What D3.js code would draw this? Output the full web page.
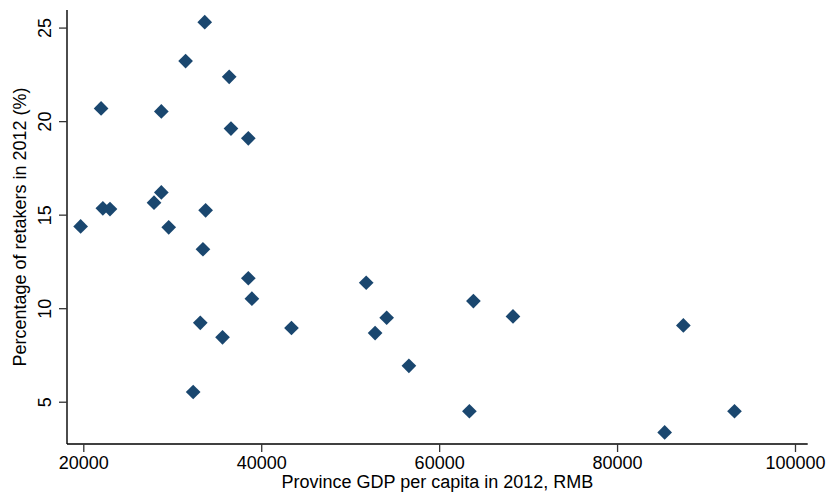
<!DOCTYPE html>
<html>
<head>
<meta charset="utf-8">
<script src="https://cdn.jsdelivr.net/npm/d3@7"></script>
<style>
  body { margin: 0; background: #fff; }
  svg { display: block; font-family: "Liberation Sans", Arial, sans-serif; }
</style>
</head>
<body>
<svg width="828" height="499"></svg>
<script>
var svg = d3.select('svg');

// GDP per capita (RMB) and share of retakers (%), one entry per province
var gdp = [19700, 22000, 22200, 23000, 27950, 28770, 28770, 29600, 31500, 33650,
  36400, 36600, 38550, 33750, 33450, 38550, 38950, 33150, 35650, 32350,
  43400, 51800, 52800, 54100, 56600, 63850, 63400, 68300, 87450, 85350, 93200];
var retakers = [14.37, 20.68, 15.34, 15.30, 15.64, 20.52, 16.19, 14.32, 23.21, 25.29,
  22.37, 19.60, 19.08, 15.23, 13.15, 11.60, 10.51, 9.22, 8.44, 5.52,
  8.94, 11.36, 8.67, 9.49, 6.92, 10.38, 4.49, 9.56, 9.08, 3.36, 4.49];
var xTicks = [20000, 40000, 60000, 80000, 100000];
var yTicks = [5, 10, 15, 20, 25];

var points = gdp.map(function(g, i) {
  return {x: g, y: retakers[i]};
});

// plot region (window.top is reserved, so use other names)
var plotLeft = 67, plotRight = 807.7, plotTop = 10, plotBottom = 444;
var fontSize = 18;

var x = d3.scaleLinear().domain([18168, 101428]).range([plotLeft, plotRight]);
var y = d3.scaleLinear().domain([2.74, 25.94]).range([plotBottom, plotTop]);

// axes
var xAxis = svg.append('g')
  .attr('transform', 'translate(0,' + plotBottom + ')')
  .call(d3.axisBottom(x).tickValues(xTicks).tickSize(8).tickPadding(4).tickFormat(d3.format('d')));
var yAxis = svg.append('g')
  .attr('transform', 'translate(' + plotLeft + ',0)')
  .call(d3.axisLeft(y).tickValues(yTicks).tickSize(8).tickFormat(d3.format('d')));

xAxis.select('.domain').attr('d', 'M' + plotLeft + ',0H' + plotRight);
yAxis.select('.domain').attr('d', 'M0,' + plotTop + 'V' + plotBottom);

[xAxis, yAxis].forEach(function(a) {
  a.select('.domain').attr('stroke', '#000').attr('stroke-width', 1.4);
  a.selectAll('.tick line').attr('stroke', '#333').attr('stroke-width', 1.3);
  a.selectAll('.tick text').attr('fill', '#000').attr('font-size', fontSize)
    .attr('font-family', '"Liberation Sans", Arial, sans-serif');
});

// rotate the y tick labels like the original
yAxis.selectAll('.tick text')
  .attr('x', null).attr('dy', null)
  .attr('text-anchor', 'middle')
  .attr('transform', 'translate(-16,0) rotate(-90)');

// axis titles
svg.append('text')
  .attr('x', (plotLeft + plotRight) / 2)
  .attr('y', 488)
  .attr('text-anchor', 'middle')
  .attr('font-size', fontSize)
  .text('Province GDP per capita in 2012, RMB');

svg.append('text')
  .attr('transform', 'translate(26,' + (plotTop + plotBottom) / 2 + ') rotate(-90)')
  .attr('text-anchor', 'middle')
  .attr('font-size', fontSize)
  .text('Percentage of retakers in 2012 (%)');

// diamond markers
svg.append('g')
  .selectAll('path')
  .data(points)
  .enter()
  .append('path')
  .attr('d', d3.symbol(d3.symbolSquare, 108))
  .attr('transform', function(d) {
    return 'translate(' + x(d.x) + ',' + y(d.y) + ') rotate(45)';
  })
  .attr('fill', '#1a476f');
</script>
</body>
</html>
